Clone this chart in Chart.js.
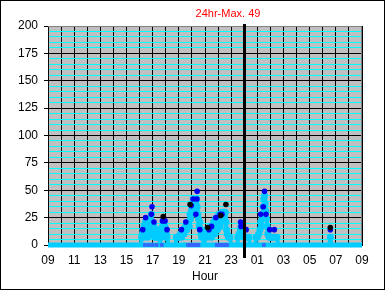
<!DOCTYPE html>
<html>
<head>
<meta charset="utf-8">
<script src="https://cdn.jsdelivr.net/npm/chart.js@4.4.1/dist/chart.umd.min.js"></script>
<style>
  html, body { margin: 0; padding: 0; background: #fff; }
  canvas { display: block; }
</style>
</head>
<body>
<canvas id="hourChart" width="385" height="290"></canvas>
<script>
// hours are counted from midnight of the first day (24+ = next day)
const cyanHours = [9, 16.1, 16.15, 16.2, 16.25, 16.3, 16.35, 16.4, 16.45, 16.5, 16.55, 16.6, 16.65, 16.7, 16.75, 16.8, 16.85, 16.9, 16.95, 17.0, 17.05, 17.1, 17.15, 17.2, 17.25, 17.3, 17.35, 17.4, 17.5, 17.55,
    17.65, 17.7, 17.75, 17.8, 17.85, 17.9, 17.95, 18.0, 18.05, 18.1, 18.2,
    18.75, 18.8, 18.9, 19.0, 19.1, 19.2, 19.3, 19.4, 19.5, 19.6, 19.7, 19.8, 19.85, 19.9, 19.95, 20.0, 20.05, 20.1, 20.15, 20.2, 20.25, 20.3, 20.35, 20.4, 20.45, 20.5, 20.55, 20.6, 20.65, 20.7, 20.75, 20.85, 20.9,
    20.95, 21.0, 21.05, 21.1, 21.2, 21.25, 21.35, 21.4, 21.45, 21.5, 21.55, 21.6, 21.65, 21.7, 21.75, 21.8, 21.85, 21.9, 21.95, 22.0, 22.05, 22.1, 22.15, 22.2, 22.3, 22.4, 22.5, 22.55, 22.6, 22.65, 22.7, 22.8, 22.9, 23.0,
    23.45, 23.5, 23.6, 23.7, 23.75, 23.8, 23.9, 24.0, 24.1, 24.2, 24.35, 24.45,
    24.85, 24.9, 25.0, 25.1, 25.2, 25.25, 25.3, 25.35, 25.4, 25.45, 25.5, 25.55, 25.6, 25.65, 25.7, 25.75, 25.8, 25.9, 26.0, 26.1, 26.2, 26.3, 26.5, 26.6,
    30.5, 30.58, 30.66, 33];
const cyanValues = [0, 0, 7, 10, 14, 7, 18, 14, 21, 10, 17, 7, 14, 20, 10, 24, 17, 28, 21, 14, 10, 17, 7, 14, 10, 7, 14, 7, 10, 0,
    7, 14, 17, 21, 14, 10, 17, 7, 10, 7, 0,
    0, 7, 7, 7, 10, 7, 14, 10, 17, 14, 21, 17, 28, 24, 31, 35, 28, 42, 38, 35, 31, 38, 42, 35, 28, 24, 17, 21, 14, 10, 7, 7, 0,
    0, 7, 10, 14, 7, 14, 10, 17, 14, 7, 17, 14, 21, 17, 10, 24, 17, 21, 14, 24, 28, 21, 17, 24, 30, 30, 30, 30, 21, 14, 10, 7, 7, 0,
    0, 7, 10, 14, 17, 10, 14, 7, 7, 7, 7, 0,
    0, 7, 7, 10, 14, 21, 17, 24, 28, 35, 42, 45, 38, 31, 24, 17, 10, 7, 7, 7, 7, 7, 7, 0,
    0, 7, 0, 0];

const blueHours = [16.24, 16.46, 16.9, 16.95, 17.1, 17.75, 17.95, 18.1, 19.2, 19.53, 19.95, 20.09, 20.3, 20.38, 20.4, 20.6, 21.3, 21.5, 21.83, 22.16, 22.3, 23.72, 23.75, 24.15, 25.25, 25.45, 25.55, 25.66, 25.95, 26.3, 30.58];
const blueValues = [14, 25, 28, 35, 21, 22, 22, 14, 14, 21, 36, 42, 28, 42, 49, 14, 14, 17, 25, 28, 28, 21, 17, 14, 28, 35, 49, 28, 14, 14, 14];

const blackHours = [17.81, 19.86, 21.2, 22.2, 22.6, 30.58];
const blackValues = [26, 37, 16, 27, 37, 16];

const zeroHours = [16.4, 16.7, 17.0, 17.3, 17.7, 19.7, 19.8, 19.9, 20.0, 20.1, 20.2, 20.3, 20.4, 20.5, 21.9, 22.0, 22.1, 22.2, 22.3, 22.4, 22.5, 22.6, 22.7, 25.5];

const xMin = 9, xMax = 33;
const yMax = 200;
const nowHour = 24.0;
const maxLabel = '24hr-Max. 49';

function toPoints(hours, values) {
    return hours.map((h, i) => ({ x: h, y: values[i] }));
}

function pad(n) {
    return String(n % 24).padStart(2, '0');
}

const frame = {
    id: 'frame',
    beforeDraw(chart) {
        const { ctx, chartArea: a } = chart;
        ctx.save();
        ctx.fillStyle = '#c0c0c0';
        ctx.fillRect(a.left, a.top, a.right - a.left, a.bottom - a.top);
        ctx.restore();
    },
    afterDatasetsDraw(chart) {
        const { ctx, chartArea: a } = chart;
        const x = Math.round(chart.scales.x.getPixelForValue(nowHour));
        ctx.save();
        // plot border (top/right)
        ctx.strokeStyle = '#808080';
        ctx.lineWidth = 1;
        ctx.beginPath();
        ctx.moveTo(a.left, a.top + 0.5);
        ctx.lineTo(a.right - 0.5, a.top + 0.5);
        ctx.lineTo(a.right - 0.5, a.bottom - 3);
        ctx.stroke();
        // "now" marker
        ctx.fillStyle = '#000';
        ctx.fillRect(x - 1, a.top - 2, 3, a.bottom - a.top + 15);
        // max label
        ctx.fillStyle = '#ff0000';
        ctx.font = '11px "Liberation Sans", Arial, sans-serif';
        ctx.textAlign = 'center';
        ctx.textBaseline = 'middle';
        ctx.fillText(maxLabel, 228, 14);
        // outer border
        ctx.strokeStyle = '#000';
        ctx.strokeRect(0.5, 0.5, chart.width - 1, chart.height - 1);
        ctx.restore();
    }
};

const font = { family: '"Liberation Sans", Arial, sans-serif', size: 12 };
const cyanPoints = toPoints(cyanHours, cyanValues);

new Chart(document.getElementById('hourChart'), {
    type: 'scatter',
    data: {
        datasets: [{
            label: 'Black',
            data: toPoints(blackHours, blackValues),
            backgroundColor: '#000000',
            pointRadius: 2.8,
            pointBorderWidth: 0,
            order: 1
        }, {
            label: 'Blue',
            data: toPoints(blueHours, blueValues),
            backgroundColor: '#0000ee',
            pointRadius: 2.8,
            pointBorderWidth: 0,
            order: 2
        }, {
            label: 'Zero',
            data: toPoints(zeroHours, zeroHours.map(() => 0)),
            backgroundColor: '#3366ff',
            pointStyle: 'rect',
            pointRadius: 2.6,
            pointBorderWidth: 0,
            clip: false,
            order: 3
        }, {
            label: 'Cyan',
            data: cyanPoints,
            showLine: true,
            borderColor: '#00ccff',
            backgroundColor: '#00ccff',
            borderWidth: 4,
            borderJoinStyle: 'round',
            pointRadius: c => (c.raw && c.raw.y === 0) ? 0 : 3.5,
            pointBorderWidth: 0,
            order: 4
        }, {
            // cyan readings lying on zero, drawn as the thick base band
            label: 'CyanBase',
            data: cyanPoints.filter(p => p.y === 0),
            showLine: true,
            borderColor: '#00ccff',
            borderWidth: 5,
            borderCapStyle: 'butt',
            pointRadius: 0,
            clip: false,
            order: 5
        }]
    },
    options: {
        responsive: false,
        animation: false,
        layout: { padding: { left: 0, top: 26, right: 23, bottom: 0 } },
        plugins: {
            legend: { display: false },
            tooltip: { enabled: false }
        },
        scales: {
            x: {
                type: 'linear',
                min: xMin,
                max: xMax,
                afterFit: s => { s.height = 45; },
                border: { display: true, color: '#000', width: 1 },
                grid: { color: '#000', lineWidth: 1, drawTicks: false },
                ticks: {
                    stepSize: 1,
                    maxTicksLimit: 100,
                    autoSkip: false,
                    maxRotation: 0,
                    padding: 8,
                    color: '#000',
                    font: font,
                    callback: v => ((v - xMin) % 2 === 0 ? pad(v) : '')
                },
                title: {
                    display: true,
                    text: 'Hour',
                    color: '#000',
                    font: font,
                    padding: { top: 0, bottom: 6 }
                }
            },
            y: {
                min: 0,
                max: yMax,
                afterFit: s => { s.width = 48; },
                border: { display: true, color: '#000', width: 1 },
                grid: {
                    color: c => (c.tick && c.tick.value % 25 === 0 ? '#000000' : '#00ffff'),
                    tickColor: c => (c.tick && c.tick.value % 25 === 0 ? '#000000' : 'rgba(0,0,0,0)'),
                    tickLength: 4,
                    lineWidth: 1
                },
                ticks: {
                    stepSize: 5,
                    maxTicksLimit: 100,
                    autoSkip: false,
                    padding: 6,
                    color: '#000',
                    font: font,
                    callback: v => (v % 25 === 0 ? v : '')
                }
            }
        }
    },
    plugins: [frame]
});
</script>
</body>
</html>
